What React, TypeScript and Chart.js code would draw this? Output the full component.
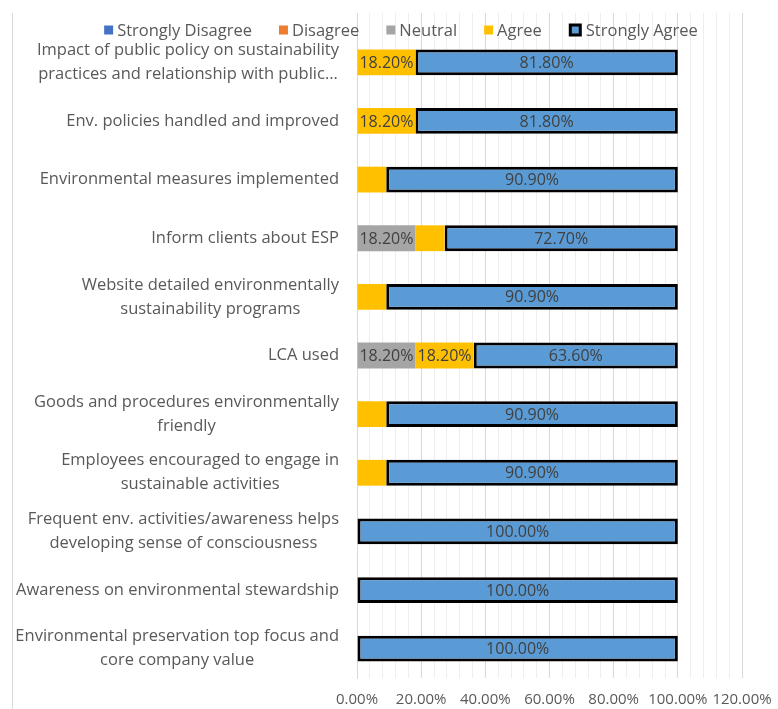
import React, { useEffect, useRef } from "react";
import { Chart, registerables } from "chart.js";

Chart.register(...registerables);

const CATEGORIES: string[][] = [
  ["Impact of public policy on sustainability", "practices and relationship with public…"],
  ["Env. policies handled and improved"],
  ["Environmental measures implemented"],
  ["Inform clients about ESP"],
  ["Website detailed environmentally", "sustainability programs"],
  ["LCA used"],
  ["Goods and procedures environmentally", "friendly"],
  ["Employees encouraged to engage in", "sustainable activities"],
  ["Frequent env. activities/awareness helps", "developing sense of consciousness"],
  ["Awareness on environmental stewardship"],
  ["Environmental preservation top focus and", "core company value"],
];

const SERIES_NAMES = ["Strongly Disagree", "Disagree", "Neutral", "Agree", "Strongly Agree"];
const STRONGLY_DISAGREE = [0, 0, 0, 0, 0, 0, 0, 0, 0, 0, 0];
const DISAGREE = [0, 0, 0, 0, 0, 0, 0, 0, 0, 0, 0];
const NEUTRAL = [0, 0, 0, 18.2, 0, 18.2, 0, 0, 0, 0, 0];
const AGREE = [18.2, 18.2, 9.1, 9.1, 9.1, 18.2, 9.1, 9.1, 0, 0, 0];
const STRONGLY_AGREE = [81.8, 81.8, 90.9, 72.7, 90.9, 63.6, 90.9, 90.9, 100, 100, 100];

const X_MIN = 0;
const X_MAX = 120;
const X_GRID_STEP = 4;
const X_LABEL_STEP = 20;
const LABEL_MIN_VALUE = 15;

const COLORS = ["#4472C4", "#ED7D31", "#A5A5A5", "#FFC000", "#5B9BD5"];
const FONT = "'Open Sans', sans-serif";
const TEXT_COLOR = "#595959";
const DATA_LABEL_COLOR = "#404040";
const MAJOR_GRID = "#d9d9d9";
const MINOR_GRID = "#eeeeee";

const align = (v: number) => Math.round(v - 0.5) + 0.5;

const decorPlugin = {
  id: "excelDecor",
  beforeDraw(chart: any) {
    const ctx = chart.ctx;
    const xs = chart.scales.x;
    const top = chart.chartArea.top;
    ctx.save();
    ctx.lineWidth = 1;
    ctx.strokeStyle = "#d9d9d9";
    ctx.beginPath();
    ctx.moveTo(12.5, 13);
    ctx.lineTo(12.5, chart.height);
    ctx.stroke();
    xs.ticks.forEach((t: any) => {
      const px = align(xs.getPixelForValue(t.value));
      ctx.strokeStyle = t.value % X_LABEL_STEP === 0 ? MAJOR_GRID : MINOR_GRID;
      ctx.beginPath();
      ctx.moveTo(px, 13);
      ctx.lineTo(px, top);
      ctx.stroke();
    });
    ctx.restore();
  },
  afterDatasetsDraw(chart: any) {
    const ctx = chart.ctx;
    ctx.save();
    ctx.font = `16px ${FONT}`;
    ctx.fillStyle = DATA_LABEL_COLOR;
    ctx.textAlign = "center";
    ctx.textBaseline = "middle";
    chart.data.datasets.forEach((ds: any, i: number) => {
      const meta = chart.getDatasetMeta(i);
      meta.data.forEach((el: any, j: number) => {
        const v = ds.data[j];
        if (v < LABEL_MIN_VALUE) return;
        const cx = (el.x + el.base) / 2;
        ctx.fillText(v.toFixed(2) + "%", cx, el.y + 1);
      });
    });
    ctx.restore();
  },
  afterDraw(chart: any) {
    const ctx = chart.ctx;
    const ys = chart.scales.y;
    const left = chart.chartArea.left;
    ctx.save();
    ctx.font = `16.5px ${FONT}`;
    ctx.fillStyle = TEXT_COLOR;
    ctx.textAlign = "center";
    ctx.textBaseline = "middle";
    const lineGap = 24;
    CATEGORIES.forEach((lines, i) => {
      const y = ys.getPixelForValue(i);
      const w = Math.max(...lines.map((l) => ctx.measureText(l).width));
      const cx = left - 18 - w / 2;
      lines.forEach((l, k) => {
        ctx.fillText(l, cx, y + (k - (lines.length - 1) / 2) * lineGap);
      });
    });
    ctx.font = `16.5px ${FONT}`;
    ctx.textAlign = "left";
    const boxSizes = SERIES_NAMES.map((_, i) => (i === SERIES_NAMES.length - 1 ? 13 : 9));
    const textGap = 4;
    const itemGap = 27;
    const widths = SERIES_NAMES.map((n, i) => boxSizes[i] + textGap + ctx.measureText(n).width);
    const total = widths.reduce((a, b) => a + b, 0) + itemGap * (widths.length - 1);
    let x = 401 - total / 2;
    const ly = 30;
    SERIES_NAMES.forEach((n, i) => {
      const s = boxSizes[i];
      if (i === SERIES_NAMES.length - 1) {
        ctx.fillStyle = "#000";
        ctx.fillRect(x, ly - s / 2, s, s);
        ctx.fillStyle = COLORS[i];
        ctx.fillRect(x + 3, ly - s / 2 + 3, s - 6, s - 6);
      } else {
        ctx.fillStyle = COLORS[i];
        ctx.fillRect(x, ly - s / 2, s, s);
      }
      ctx.fillStyle = TEXT_COLOR;
      ctx.fillText(n, x + s + textGap, ly + 1);
      x += widths[i] + itemGap;
    });
    ctx.restore();
  },
};

export default function App() {
  const ref = useRef<HTMLCanvasElement | null>(null);

  useEffect(() => {
    if (!ref.current) return;
    const series = [STRONGLY_DISAGREE, DISAGREE, NEUTRAL, AGREE, STRONGLY_AGREE];
    const chart = new Chart(ref.current, {
      type: "bar",
      data: {
        labels: CATEGORIES.map((c) => c.join(" ")),
        datasets: series.map((data, i) => ({
          label: SERIES_NAMES[i],
          data,
          backgroundColor: COLORS[i],
          borderColor: i === 4 ? "#000000" : COLORS[i],
          borderWidth: i === 4 ? 3 : 0,
          borderSkipped: false,
          barPercentage: 0.44,
          categoryPercentage: 1,
        })),
      },
      options: {
        indexAxis: "y",
        responsive: true,
        maintainAspectRatio: false,
        animation: false,
        layout: { padding: { top: 33, right: 36, bottom: 0, left: 0 }, autoPadding: false },
        plugins: {
          legend: { display: false },
          tooltip: { enabled: false },
        },
        scales: {
          x: {
            stacked: true,
            min: X_MIN,
            max: X_MAX,
            ticks: {
              stepSize: X_GRID_STEP,
              autoSkip: false,
              maxRotation: 0,
              padding: 13,
              color: TEXT_COLOR,
              font: { family: FONT, size: 15 },
              callback: (v: any) => (Number(v) % X_LABEL_STEP === 0 ? Number(v).toFixed(2) + "%" : ""),
            },
            grid: {
              drawTicks: false,
              color: (c: any) => (c.tick && c.tick.value % X_LABEL_STEP === 0 ? MAJOR_GRID : MINOR_GRID),
            },
            border: { display: false },
            afterFit: (s: any) => {
              s.height = 31;
              s.paddingLeft = 0;
              s.paddingRight = 0;
            },
          },
          y: {
            stacked: true,
            ticks: { display: false },
            grid: { display: false },
            border: { display: true, color: "#d9d9d9" },
            afterFit: (s: any) => {
              s.width = 357;
              s.paddingTop = 0;
              s.paddingBottom = 0;
            },
          },
        },
      },
      plugins: [decorPlugin],
    });
    return () => chart.destroy();
  }, []);

  return (
    <div style={{ position: "absolute", left: 0, top: 0, width: 778, height: 709 }}>
      <canvas ref={ref} />
    </div>
  );
}
